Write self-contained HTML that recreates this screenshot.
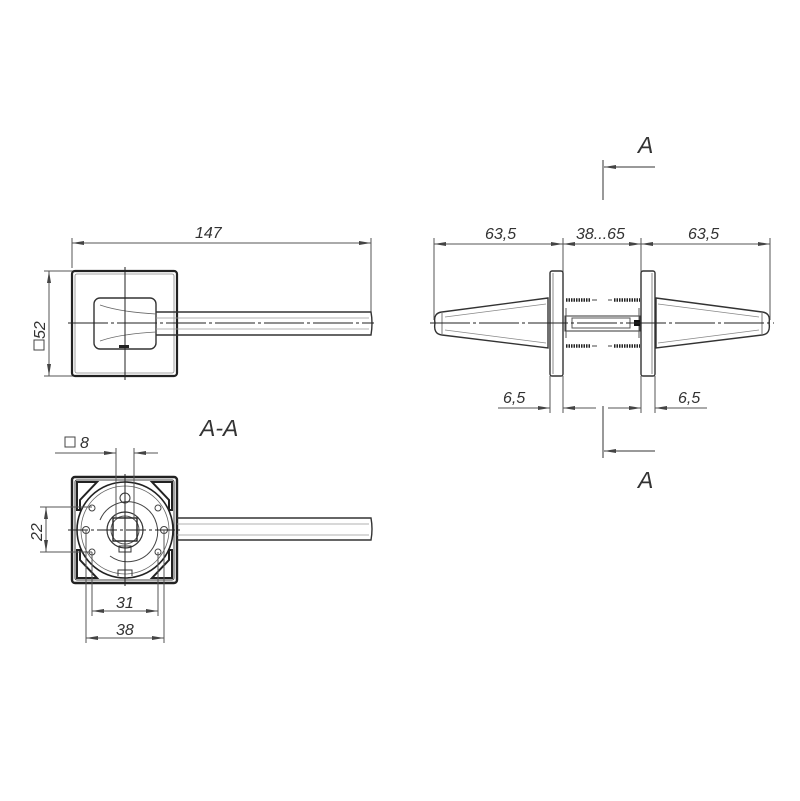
<!DOCTYPE html>
<html><head><meta charset="utf-8"><style>
html,body{margin:0;padding:0;background:#fff;}
svg{display:block;}
text{font-family:"Liberation Sans",sans-serif;font-style:italic;fill:#333;}
</style></head><body>
<svg width="800" height="801" viewBox="0 0 800 801" xmlns="http://www.w3.org/2000/svg">
<defs>
<marker id="a" viewBox="0 0 12 6" refX="12" refY="3" markerWidth="12" markerHeight="6" orient="auto-start-reverse" markerUnits="userSpaceOnUse"><path d="M0,1 L12,3 L0,5 Z" fill="#444"/></marker>
</defs>
<g stroke="#555" stroke-width="1" fill="none">
<!-- TOP VIEW -->
<line x1="72" y1="238" x2="72" y2="268"/>
<line x1="371" y1="238" x2="371" y2="312"/>
<line x1="72" y1="243" x2="371" y2="243" marker-start="url(#a)" marker-end="url(#a)"/>
<line x1="44" y1="271" x2="73" y2="271"/>
<line x1="44" y1="376" x2="73" y2="376"/>
<line x1="49" y1="271" x2="49" y2="376" marker-start="url(#a)" marker-end="url(#a)"/>
<rect x="72" y="271" width="105" height="105" rx="3" stroke="#222" stroke-width="2.2"/>
<rect x="75" y="274" width="99" height="99" rx="2" stroke="#888" stroke-width="0.8"/>
<rect x="94" y="298" width="62" height="51" rx="6" stroke="#333" stroke-width="1.4"/>
<path d="M156,312 L371,312 Q373,323 371,335 L156,335" stroke="#333" stroke-width="1.4"/>
<path d="M100,305 Q120,312 156,314 M100,341 Q120,334 156,332" stroke="#666" stroke-width="0.8"/>
<line x1="156" y1="318" x2="369" y2="318" stroke="#999" stroke-width="0.8"/>
<line x1="156" y1="329" x2="369" y2="329" stroke="#999" stroke-width="0.8"/>
<line x1="68" y1="323" x2="374" y2="323" stroke="#222" stroke-dasharray="40,3,3,3"/>
<line x1="125" y1="267" x2="125" y2="380" stroke="#222"/>
<rect x="119" y="345" width="10" height="3" fill="#222" stroke="none"/>

<!-- SIDE VIEW -->
<line x1="434" y1="238" x2="434" y2="320"/>
<line x1="563" y1="238" x2="563" y2="272"/>
<line x1="641" y1="238" x2="641" y2="272"/>
<line x1="770" y1="238" x2="770" y2="320"/>
<line x1="434" y1="244" x2="563" y2="244" marker-start="url(#a)" marker-end="url(#a)"/>
<line x1="563" y1="244" x2="641" y2="244" marker-start="url(#a)" marker-end="url(#a)"/>
<line x1="641" y1="244" x2="770" y2="244" marker-start="url(#a)" marker-end="url(#a)"/>
<path d="M548,298 L442,312 Q433,313 435,323 Q433,334 442,335 L548,348 Z" stroke="#333" stroke-width="1.4"/>
<line x1="442" y1="312" x2="442" y2="335" stroke="#777"/>
<path d="M445,317 L546,304 M445,330 L546,343" stroke="#888" stroke-width="0.8"/>
<rect x="550" y="271" width="13" height="105" rx="2" stroke="#333" stroke-width="1.4"/>
<line x1="553" y1="273" x2="553" y2="374" stroke="#888"/>
<path d="M656,298 L762,312 Q771,313 769,323 Q771,334 762,335 L656,348 Z" stroke="#333" stroke-width="1.4"/>
<line x1="762" y1="312" x2="762" y2="335" stroke="#777"/>
<path d="M759,317 L658,304 M759,330 L658,343" stroke="#888" stroke-width="0.8"/>
<rect x="641" y="271" width="14" height="105" rx="2" stroke="#333" stroke-width="1.4"/>
<line x1="652" y1="273" x2="652" y2="374" stroke="#888"/>
<g stroke="#222" stroke-width="3.5" stroke-dasharray="1.5,1">
<line x1="566" y1="300" x2="590" y2="300"/><line x1="566" y1="346" x2="590" y2="346"/>
<line x1="614" y1="300" x2="640" y2="300"/><line x1="614" y1="346" x2="640" y2="346"/>
</g>
<g stroke="#444" stroke-width="1"><line x1="592" y1="300" x2="597" y2="300"/><line x1="592" y1="346" x2="597" y2="346"/><line x1="608" y1="300" x2="612" y2="300"/><line x1="608" y1="346" x2="612" y2="346"/></g>
<rect x="565" y="316" width="75" height="15" stroke="#333"/>
<rect x="572" y="318" width="58" height="10" stroke="#555"/>
<line x1="566" y1="308" x2="566" y2="338"/><line x1="639" y1="308" x2="639" y2="338"/>
<rect x="634" y="320" width="6" height="6" fill="#111" stroke="none"/>
<line x1="430" y1="323" x2="774" y2="323" stroke="#222" stroke-dasharray="40,3,3,3"/>
<line x1="550" y1="376" x2="550" y2="413"/><line x1="563" y1="376" x2="563" y2="413"/>
<line x1="641" y1="376" x2="641" y2="413"/><line x1="655" y1="376" x2="655" y2="413"/>
<line x1="498" y1="408" x2="550" y2="408" marker-end="url(#a)"/>
<line x1="596" y1="408" x2="563" y2="408" marker-end="url(#a)"/>
<line x1="608" y1="408" x2="641" y2="408" marker-end="url(#a)"/>
<line x1="707" y1="408" x2="655" y2="408" marker-end="url(#a)"/>
<line x1="603" y1="160" x2="603" y2="200" stroke="#333"/>
<line x1="655" y1="167" x2="604" y2="167" stroke="#333" marker-end="url(#a)"/>
<line x1="603" y1="406" x2="603" y2="458" stroke="#333"/>
<line x1="655" y1="451" x2="604" y2="451" stroke="#333" marker-end="url(#a)"/>

<!-- SECTION VIEW -->
<rect x="72" y="477" width="105" height="106" rx="3" stroke="#222" stroke-width="2.4"/>
<rect x="75" y="480" width="99" height="100" rx="2" stroke="#444" stroke-width="1"/>
<path d="M177,518 L371,518 Q373,529 371,540 L177,540" stroke="#333" stroke-width="1.4"/>
<line x1="177" y1="524" x2="369" y2="524" stroke="#999" stroke-width="0.8"/>
<line x1="177" y1="535" x2="369" y2="535" stroke="#999" stroke-width="0.8"/>
<circle cx="125" cy="530" r="48" stroke="#222" stroke-width="1.6"/>
<circle cx="125" cy="530" r="44" stroke="#666" stroke-width="0.8"/>
<g stroke="#222" stroke-width="2">
<path d="M77,482 L97,482 L80,500 L80,510 L77,510 Z"/>
<path d="M172,482 L152,482 L169,500 L169,510 L172,510 Z"/>
<path d="M77,578 L97,578 L80,560 L80,550 L77,550 Z"/>
<path d="M172,578 L152,578 L169,560 L169,550 L172,550 Z"/>
</g>
<path d="M118,576 L118,570 L132,570 L132,576" stroke="#333"/>
<path d="M100,520 A30,30 0 1 1 110,556" stroke="#444"/>
<circle cx="125" cy="530" r="18" stroke="#333" stroke-width="1.2"/>
<circle cx="125" cy="530" r="14" stroke="#555"/>
<rect x="113" y="518" width="24" height="23" stroke="#222" stroke-width="1.4"/>
<circle cx="125" cy="498" r="5" stroke="#333"/>
<rect x="119" y="546" width="12" height="6" stroke="#333"/>
<g stroke="#444"><circle cx="92" cy="508" r="3"/><circle cx="158" cy="508" r="3"/><circle cx="92" cy="552" r="3"/><circle cx="158" cy="552" r="3"/><circle cx="86" cy="530" r="3.5"/><circle cx="164" cy="530" r="3.5"/></g>
<line x1="68" y1="530" x2="180" y2="530" stroke="#222" stroke-dasharray="20,3,3,3"/>
<line x1="125" y1="474" x2="125" y2="586" stroke="#222"/>
<line x1="116" y1="448" x2="116" y2="520"/><line x1="134" y1="448" x2="134" y2="520"/>
<line x1="55" y1="453" x2="116" y2="453" marker-end="url(#a)"/>
<line x1="158" y1="453" x2="134" y2="453" marker-end="url(#a)"/>
<line x1="40" y1="507" x2="92" y2="507"/><line x1="40" y1="552" x2="92" y2="552"/>
<line x1="46" y1="507" x2="46" y2="552" marker-start="url(#a)" marker-end="url(#a)"/>
<line x1="92" y1="552" x2="92" y2="616"/><line x1="158" y1="552" x2="158" y2="616"/>
<line x1="86" y1="530" x2="86" y2="643"/><line x1="164" y1="530" x2="164" y2="643"/>
<line x1="92" y1="611" x2="158" y2="611" marker-start="url(#a)" marker-end="url(#a)"/>
<line x1="86" y1="638" x2="164" y2="638" marker-start="url(#a)" marker-end="url(#a)"/>
</g>
<g font-size="16">
<text x="195" y="238">147</text>
<text x="485" y="239">63,5</text>
<text x="576" y="239">38...65</text>
<text x="688" y="239">63,5</text>
<text x="503" y="403">6,5</text>
<text x="678" y="403">6,5</text>
<text x="116" y="608">31</text>
<text x="116" y="635">38</text>
<text x="80" y="448">8</text>
<text transform="translate(45,339) rotate(-90)">52</text>
<text transform="translate(42,541) rotate(-90)">22</text>
</g>
<g fill="none" stroke="#444"><rect x="65" y="437" width="10" height="10"/><rect x="34" y="340" width="10" height="10"/></g>
<text x="200" y="436" font-size="23">A-A</text>
<text x="638" y="153" font-size="23">A</text>
<text x="638" y="488" font-size="23">A</text>
</svg>
</body></html>
